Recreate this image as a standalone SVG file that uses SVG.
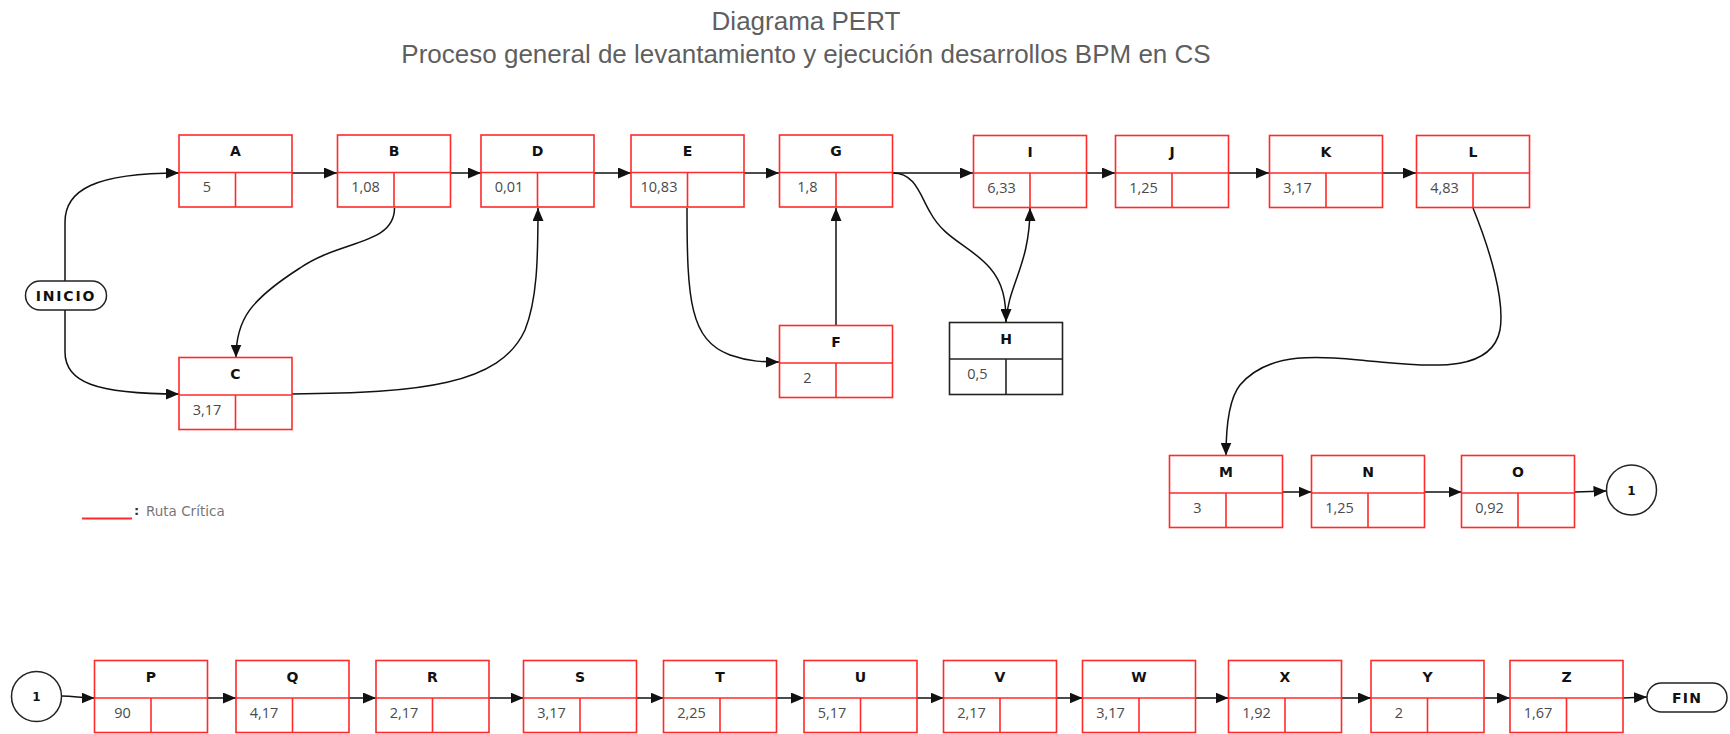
<svg xmlns="http://www.w3.org/2000/svg" width="1730" height="734" viewBox="0 0 1730 734">
<defs>
<style>
.title{font-family:"Liberation Sans",Arial,sans-serif;font-size:26px;fill:#5f5f5f;text-anchor:middle}
.box{fill:#fff;stroke:#ff2a2a;stroke-width:1.6}
.div{stroke:#ff2a2a;stroke-width:1.6}
.hbox{fill:#fff;stroke:#222;stroke-width:1.6}
.hdiv{stroke:#222;stroke-width:1.6}
.lbl{font-family:"DejaVu Sans",Verdana,sans-serif;font-weight:bold;font-size:14px;fill:#111;text-anchor:middle}
.val{font-family:"Open Sans","DejaVu Sans",sans-serif;font-size:14.5px;fill:#4a4a4a;text-anchor:middle}
.con{fill:none;stroke:#111;stroke-width:1.5;marker-end:url(#ah)}
.term{fill:#fff;stroke:#222;stroke-width:1.5}
.tt{font-family:"DejaVu Sans",Verdana,sans-serif;font-weight:bold;font-size:14px;fill:#111;text-anchor:middle;letter-spacing:1.2px}
.leg{font-family:"DejaVu Sans",Verdana,sans-serif;font-size:13.5px;fill:#777}
</style>
<marker id="ah" markerWidth="13" markerHeight="11" refX="13" refY="5.5" orient="auto" markerUnits="userSpaceOnUse"><path d="M0,0 L13,5.5 L0,11 z" fill="#111"/></marker>
<g id="tpl"><rect class="box" x="0" y="0" width="113" height="72"/><line class="div" x1="0" y1="37.5" x2="113" y2="37.5"/><line class="div" x1="56.5" y1="37.5" x2="56.5" y2="72"/></g>
</defs>
<rect width="1730" height="734" fill="#fff"/>
<g id="title">
<text class="title" x="806" y="30">Diagrama PERT</text>
<text class="title" x="806" y="63">Proceso general de levantamiento y ejecución desarrollos BPM en CS</text>
</g>
<g id="connectors">
<path class="con" d="M65,281 L65,222 C65,190 95,173 179,173"/>
<path class="con" d="M65,309 L65,352 C65,382 95,394 179,394"/>
<path class="con" d="M292,173 L337,173"/>
<path class="con" d="M450,173 L481,173"/>
<path class="con" d="M594,173 L631,173"/>
<path class="con" d="M744,173 L779,173"/>
<path class="con" d="M892,173 L973,173"/>
<path class="con" d="M1086,173 L1115,173"/>
<path class="con" d="M1228,173 L1269,173"/>
<path class="con" d="M1382,173 L1416,173"/>
<path class="con" d="M394.5,208 C394.5,245 340,240 300,268 C250,300 236,320 236,357.5"/>
<path class="con" d="M292,394 C420,393 500,385 525,330 C537,300 538,260 538,208"/>
<path class="con" d="M687,208 C687,300 690,340 730,355 C750,362 765,362 779,362"/>
<path class="con" d="M836,325.5 L836,208"/>
<path class="con" d="M893,173 C915,173 920,195 930,212 C945,240 970,245 990,268 C1003,283 1006,300 1006,322"/>
<path class="con" d="M1006,322 C1008,285 1030,265 1030,208"/>
<path class="con" d="M1473,208 C1490,250 1505,300 1500,330 C1492,370 1440,368 1380,362 C1320,356 1270,350 1240,385 C1228,400 1226,430 1226,455.5"/>
<path class="con" d="M1283,492 L1311.5,492"/>
<path class="con" d="M1425,492 L1461.5,492"/>
<path class="con" d="M1575,492 L1606.5,491"/>
<path class="con" d="M61.5,696 C75,696 80,698 94.5,698"/>
<path class="con" d="M207.5,698 L236,698"/>
<path class="con" d="M349,698 L376,698"/>
<path class="con" d="M489,698 L523.5,698"/>
<path class="con" d="M636.5,698 L663.5,698"/>
<path class="con" d="M776.5,698 L804,698"/>
<path class="con" d="M917,698 L943.5,698"/>
<path class="con" d="M1056.5,698 L1082.5,698"/>
<path class="con" d="M1195.5,698 L1228.5,698"/>
<path class="con" d="M1341.5,698 L1371,698"/>
<path class="con" d="M1484,698 L1510,698"/>
<path class="con" d="M1623,698 L1647,697"/>
</g>
<g id="INICIO"><rect class="term" x="25.5" y="281" width="81" height="29" rx="14.5"/><text class="tt" x="66" y="300.5" style="letter-spacing:1.8px">INICIO</text></g>
<g id="FIN"><rect class="term" x="1647" y="683" width="80" height="29" rx="14.5"/><text class="tt" x="1687" y="702.5">FIN</text></g>
<g id="conn1a"><circle class="term" cx="1631.5" cy="490" r="25"/><text class="tt" x="1631.5" y="494.5" style="font-size:12px;letter-spacing:0">1</text></g>
<g id="conn1b"><circle class="term" cx="36.5" cy="696.5" r="25"/><text class="tt" x="36.5" y="701" style="font-size:12px;letter-spacing:0">1</text></g>
<g id="A" transform="translate(179,135)"><use href="#tpl"/><text class="lbl" x="56.5" y="21">A</text><text class="val" x="28" y="57">5</text></g>
<g id="B" transform="translate(337.5,135)"><use href="#tpl"/><text class="lbl" x="56.5" y="21">B</text><text class="val" x="28" y="57">1,08</text></g>
<g id="D" transform="translate(481,135)"><use href="#tpl"/><text class="lbl" x="56.5" y="21">D</text><text class="val" x="28" y="57">0,01</text></g>
<g id="E" transform="translate(631,135)"><use href="#tpl"/><text class="lbl" x="56.5" y="21">E</text><text class="val" x="28" y="57">10,83</text></g>
<g id="G" transform="translate(779.5,135)"><use href="#tpl"/><text class="lbl" x="56.5" y="21">G</text><text class="val" x="28" y="57">1,8</text></g>
<g id="I" transform="translate(973.5,135.5)"><use href="#tpl"/><text class="lbl" x="56.5" y="21">I</text><text class="val" x="28" y="57">6,33</text></g>
<g id="J" transform="translate(1115.5,135.5)"><use href="#tpl"/><text class="lbl" x="56.5" y="21">J</text><text class="val" x="28" y="57">1,25</text></g>
<g id="K" transform="translate(1269.5,135.5)"><use href="#tpl"/><text class="lbl" x="56.5" y="21">K</text><text class="val" x="28" y="57">3,17</text></g>
<g id="L" transform="translate(1416.5,135.5)"><use href="#tpl"/><text class="lbl" x="56.5" y="21">L</text><text class="val" x="28" y="57">4,83</text></g>
<g id="C" transform="translate(179,357.5)"><use href="#tpl"/><text class="lbl" x="56.5" y="21">C</text><text class="val" x="28" y="57">3,17</text></g>
<g id="F" transform="translate(779.5,325.5)"><use href="#tpl"/><text class="lbl" x="56.5" y="21">F</text><text class="val" x="28" y="57">2</text></g>
<g id="H" transform="translate(949.5,322.5)"><rect class="hbox" x="0" y="0" width="113" height="72"/><line class="hdiv" x1="0" y1="36.5" x2="113" y2="36.5"/><line class="hdiv" x1="56.5" y1="36.5" x2="56.5" y2="72"/><text class="lbl" x="56.5" y="21">H</text><text class="val" x="28" y="56">0,5</text></g>
<g id="M" transform="translate(1169.5,455.5)"><use href="#tpl"/><text class="lbl" x="56.5" y="21">M</text><text class="val" x="28" y="57">3</text></g>
<g id="N" transform="translate(1311.5,455.5)"><use href="#tpl"/><text class="lbl" x="56.5" y="21">N</text><text class="val" x="28" y="57">1,25</text></g>
<g id="O" transform="translate(1461.5,455.5)"><use href="#tpl"/><text class="lbl" x="56.5" y="21">O</text><text class="val" x="28" y="57">0,92</text></g>
<g id="P" transform="translate(94.5,660.5)"><use href="#tpl"/><text class="lbl" x="56.5" y="21">P</text><text class="val" x="28" y="57">90</text></g>
<g id="Q" transform="translate(236,660.5)"><use href="#tpl"/><text class="lbl" x="56.5" y="21">Q</text><text class="val" x="28" y="57">4,17</text></g>
<g id="R" transform="translate(376,660.5)"><use href="#tpl"/><text class="lbl" x="56.5" y="21">R</text><text class="val" x="28" y="57">2,17</text></g>
<g id="S" transform="translate(523.5,660.5)"><use href="#tpl"/><text class="lbl" x="56.5" y="21">S</text><text class="val" x="28" y="57">3,17</text></g>
<g id="T" transform="translate(663.5,660.5)"><use href="#tpl"/><text class="lbl" x="56.5" y="21">T</text><text class="val" x="28" y="57">2,25</text></g>
<g id="U" transform="translate(804,660.5)"><use href="#tpl"/><text class="lbl" x="56.5" y="21">U</text><text class="val" x="28" y="57">5,17</text></g>
<g id="V" transform="translate(943.5,660.5)"><use href="#tpl"/><text class="lbl" x="56.5" y="21">V</text><text class="val" x="28" y="57">2,17</text></g>
<g id="W" transform="translate(1082.5,660.5)"><use href="#tpl"/><text class="lbl" x="56.5" y="21">W</text><text class="val" x="28" y="57">3,17</text></g>
<g id="X" transform="translate(1228.5,660.5)"><use href="#tpl"/><text class="lbl" x="56.5" y="21">X</text><text class="val" x="28" y="57">1,92</text></g>
<g id="Y" transform="translate(1371,660.5)"><use href="#tpl"/><text class="lbl" x="56.5" y="21">Y</text><text class="val" x="28" y="57">2</text></g>
<g id="Z" transform="translate(1510,660.5)"><use href="#tpl"/><text class="lbl" x="56.5" y="21">Z</text><text class="val" x="28" y="57">1,67</text></g>
<g id="legend">
<line x1="82" y1="518.5" x2="132" y2="518.5" stroke="#ff2a2a" stroke-width="1.8"/>
<text x="134" y="515" style="font-family:'DejaVu Sans',sans-serif;font-weight:bold;font-size:13px;fill:#333">:</text>
<text class="leg" x="146" y="516">Ruta Crítica</text>
</g>
</svg>
